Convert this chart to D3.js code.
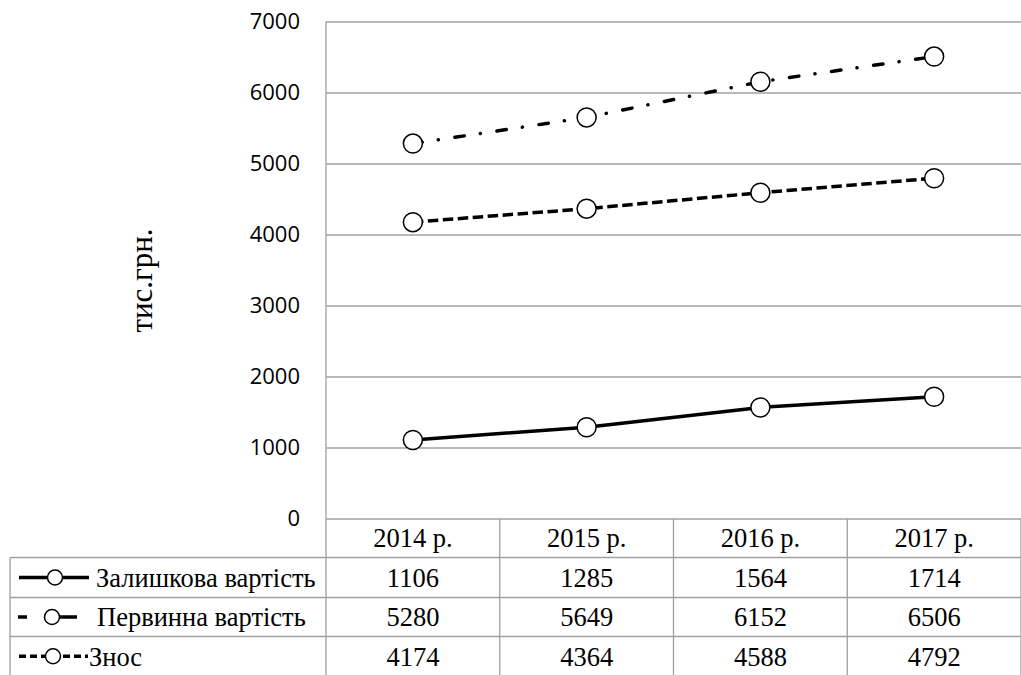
<!DOCTYPE html>
<html lang="uk">
<head>
  <meta charset="UTF-8" />
  <title>Вартість основних засобів</title>
  <script src="https://d3js.org/d3.v7.min.js"></script>
  <style>
    body { margin: 0; background: #fff; }
    svg { display: block; }
  </style>
</head>
<body>
<svg width="1021" height="675"></svg>
<script>
  // chart data
  const years = ["2014 р.", "2015 р.", "2016 р.", "2017 р."];
  const seriesNames = ["Залишкова вартість", "Первинна вартість", "Знос"];
  const residual = [1106, 1285, 1564, 1714];
  const initial = [5280, 5649, 6152, 6506];
  const wear = [4174, 4364, 4588, 4792];
  const yTicks = [0, 1000, 2000, 3000, 4000, 5000, 6000, 7000];

  const series = [
    { name: seriesNames[0], values: residual, dash: null, cap: "round" },
    { name: seriesNames[1], values: initial, dash: "9.5,16.2,0.1,16.7", cap: "round" },
    { name: seriesNames[2], values: wear, dash: "10.5,4.5", cap: "butt" }
  ];

  const SERIF = "'Liberation Serif', 'Times New Roman', 'DejaVu Serif', serif";
  const SANS = "'Open Sans', 'Liberation Sans', sans-serif";

  const plot = { left: 326, right: 1021, top: 21.5, bottom: 518.5 };
  const gridColor = "#a0a0a0";

  const svg = d3.select("svg");

  const x = d3.scaleBand().domain(years).range([plot.left, plot.right]).padding(0);
  const y = d3.scaleLinear().domain([0, 7000]).range([plot.bottom, plot.top]);
  const cx = d => x(d) + x.bandwidth() / 2;

  // gridlines
  svg.append("g")
    .attr("transform", `translate(${plot.left},0)`)
    .call(d3.axisLeft(y).tickValues(yTicks).tickSize(-(plot.right - plot.left)).tickFormat(""))
    .call(g => g.select(".domain").remove())
    .call(g => g.selectAll("line").attr("stroke", gridColor).attr("stroke-width", 1.3));

  // y tick labels
  svg.append("g")
    .attr("transform", "translate(326,0)")
    .call(d3.axisLeft(y).tickValues(yTicks).tickSize(0).tickPadding(26).tickFormat(d3.format("d")))
    .call(g => g.select(".domain").remove())
    .call(g => g.selectAll("text")
      .attr("fill", "#000")
      .style("font-family", SANS)
      .style("font-size", "22px"));

  // vertical axis line
  svg.append("line")
    .attr("x1", plot.left).attr("x2", plot.left)
    .attr("y1", plot.top).attr("y2", 676)
    .attr("stroke", gridColor).attr("stroke-width", 1.3);

  // axis title
  svg.append("text")
    .attr("transform", "translate(152,280.5) rotate(-90)")
    .attr("text-anchor", "middle")
    .style("font-family", SERIF)
    .style("font-size", "31px")
    .text("тис.грн.");

  // data table
  const rowTops = [518.5, 557.5, 597.5, 636.5, 676];
  const table = svg.append("g").attr("stroke", gridColor).attr("stroke-width", 1.3);
  rowTops.slice(1, 4).forEach(t => {
    table.append("line").attr("x1", 10).attr("x2", plot.right).attr("y1", t).attr("y2", t);
  });
  table.append("line").attr("x1", 10).attr("x2", 10).attr("y1", rowTops[1]).attr("y2", 676);
  years.forEach(yr => {
    const xr = x(yr) + x.bandwidth();
    table.append("line").attr("x1", xr).attr("x2", xr).attr("y1", rowTops[0]).attr("y2", 676);
  });

  const rowMid = i => (rowTops[i] + rowTops[i + 1]) / 2;
  const cellSize = "26.5px";

  svg.append("g").selectAll("text")
    .data(years)
    .join("text")
    .attr("x", d => cx(d))
    .attr("y", rowMid(0))
    .attr("dy", "0.35em")
    .attr("text-anchor", "middle")
    .style("font-family", SERIF)
    .style("font-size", cellSize)
    .text(d => d);

  series.forEach((s, i) => {
    svg.append("g").selectAll("text")
      .data(s.values)
      .join("text")
      .attr("x", (d, j) => cx(years[j]))
      .attr("y", rowMid(i + 1))
      .attr("dy", "0.35em")
      .attr("text-anchor", "middle")
      .style("font-family", SERIF)
      .style("font-size", cellSize)
      .text(d => d);
  });

  // legend keys in the table
  const keys = [
    { x1: 19, x2: 89, dash: null, cx: 55, tx: 96 },
    { x1: 18, x2: 77, dash: "9,31,19", cx: 52, tx: 97 },
    { x1: 19, x2: 88, dash: "7,4", cx: 53, tx: 89 }
  ];
  series.forEach((s, i) => {
    const k = keys[i];
    const ym = rowMid(i + 1);
    svg.append("line")
      .attr("x1", k.x1).attr("x2", k.x2).attr("y1", ym).attr("y2", ym)
      .attr("stroke", "#000").attr("stroke-width", 3.5)
      .attr("stroke-dasharray", k.dash);
    svg.append("circle")
      .attr("cx", k.cx).attr("cy", ym).attr("r", 7.5)
      .attr("fill", "#fff").attr("stroke", "#000").attr("stroke-width", 1.5);
    svg.append("text")
      .attr("x", k.tx).attr("y", ym)
      .attr("dy", "0.35em")
      .style("font-family", SERIF)
      .style("font-size", cellSize)
      .text(s.name);
  });

  // lines and markers
  const line = d3.line().x((d, j) => cx(years[j])).y(d => y(d));
  series.forEach(s => {
    svg.append("path")
      .datum(s.values)
      .attr("fill", "none")
      .attr("stroke", "#000")
      .attr("stroke-width", 3.5)
      .attr("stroke-linecap", s.cap)
      .attr("stroke-linejoin", "round")
      .attr("stroke-dasharray", s.dash)
      .attr("d", line);
    svg.append("g").selectAll("circle")
      .data(s.values)
      .join("circle")
      .attr("cx", (d, j) => cx(years[j]))
      .attr("cy", d => y(d))
      .attr("r", 9.5)
      .attr("fill", "#fff")
      .attr("stroke", "#000")
      .attr("stroke-width", 1.5);
  });
</script>
</body>
</html>
